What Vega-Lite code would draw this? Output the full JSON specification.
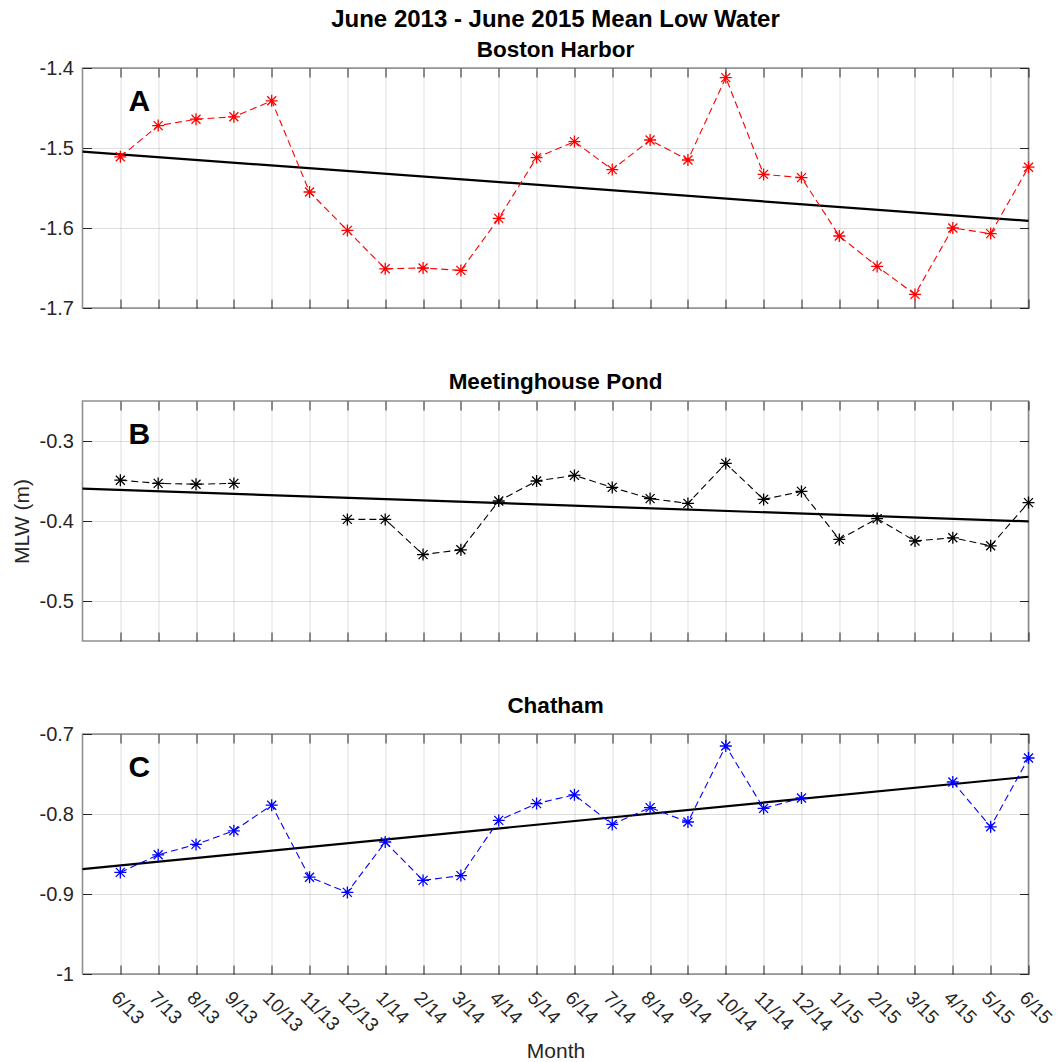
{
  "$schema": "https://vega.github.io/schema/vega-lite/v6.json",
  "padding": {"left": 10.5, "top": 7, "right": 5, "bottom": 0},
  "bounds": "flush",
  "spacing": 93,
  "datasets": {
    "mlw": [
      {"site": "A", "m": 0, "v": -1.511}, {"site": "A", "m": 1, "v": -1.472}, {"site": "A", "m": 2, "v": -1.464}, {"site": "A", "m": 3, "v": -1.461}, {"site": "A", "m": 4, "v": -1.441},
      {"site": "A", "m": 5, "v": -1.555}, {"site": "A", "m": 6, "v": -1.603}, {"site": "A", "m": 7, "v": -1.651}, {"site": "A", "m": 8, "v": -1.650}, {"site": "A", "m": 9, "v": -1.653},
      {"site": "A", "m": 10, "v": -1.588}, {"site": "A", "m": 11, "v": -1.512}, {"site": "A", "m": 12, "v": -1.492}, {"site": "A", "m": 13, "v": -1.527}, {"site": "A", "m": 14, "v": -1.490},
      {"site": "A", "m": 15, "v": -1.515}, {"site": "A", "m": 16, "v": -1.412}, {"site": "A", "m": 17, "v": -1.533}, {"site": "A", "m": 18, "v": -1.537}, {"site": "A", "m": 19, "v": -1.610},
      {"site": "A", "m": 20, "v": -1.648}, {"site": "A", "m": 21, "v": -1.683}, {"site": "A", "m": 22, "v": -1.600}, {"site": "A", "m": 23, "v": -1.607}, {"site": "A", "m": 24, "v": -1.524},
      {"site": "B", "m": 0, "v": -0.349}, {"site": "B", "m": 1, "v": -0.353}, {"site": "B", "m": 2, "v": -0.354}, {"site": "B", "m": 3, "v": -0.353}, {"site": "B", "m": 4, "v": null},
      {"site": "B", "m": 5, "v": null}, {"site": "B", "m": 6, "v": -0.398}, {"site": "B", "m": 7, "v": -0.398}, {"site": "B", "m": 8, "v": -0.442}, {"site": "B", "m": 9, "v": -0.436},
      {"site": "B", "m": 10, "v": -0.375}, {"site": "B", "m": 11, "v": -0.350}, {"site": "B", "m": 12, "v": -0.343}, {"site": "B", "m": 13, "v": -0.358}, {"site": "B", "m": 14, "v": -0.372},
      {"site": "B", "m": 15, "v": -0.378}, {"site": "B", "m": 16, "v": -0.328}, {"site": "B", "m": 17, "v": -0.373}, {"site": "B", "m": 18, "v": -0.363}, {"site": "B", "m": 19, "v": -0.423},
      {"site": "B", "m": 20, "v": -0.397}, {"site": "B", "m": 21, "v": -0.425}, {"site": "B", "m": 22, "v": -0.421}, {"site": "B", "m": 23, "v": -0.431}, {"site": "B", "m": 24, "v": -0.377},
      {"site": "C", "m": 0, "v": -0.873}, {"site": "C", "m": 1, "v": -0.851}, {"site": "C", "m": 2, "v": -0.838}, {"site": "C", "m": 3, "v": -0.821}, {"site": "C", "m": 4, "v": -0.789},
      {"site": "C", "m": 5, "v": -0.879}, {"site": "C", "m": 6, "v": -0.898}, {"site": "C", "m": 7, "v": -0.835}, {"site": "C", "m": 8, "v": -0.883}, {"site": "C", "m": 9, "v": -0.877},
      {"site": "C", "m": 10, "v": -0.808}, {"site": "C", "m": 11, "v": -0.787}, {"site": "C", "m": 12, "v": -0.776}, {"site": "C", "m": 13, "v": -0.813}, {"site": "C", "m": 14, "v": -0.792},
      {"site": "C", "m": 15, "v": -0.810}, {"site": "C", "m": 16, "v": -0.715}, {"site": "C", "m": 17, "v": -0.793}, {"site": "C", "m": 18, "v": -0.780}, {"site": "C", "m": 19, "v": null},
      {"site": "C", "m": 20, "v": null}, {"site": "C", "m": 21, "v": null}, {"site": "C", "m": 22, "v": -0.760}, {"site": "C", "m": 23, "v": -0.816}, {"site": "C", "m": 24, "v": -0.730}
    ],
    "trend": [
      {"site": "A", "m": -1, "v": -1.5045}, {"site": "A", "m": 24, "v": -1.591},
      {"site": "B", "m": -1, "v": -0.3596}, {"site": "B", "m": 24, "v": -0.4005},
      {"site": "C", "m": -1, "v": -0.8688}, {"site": "C", "m": 24, "v": -0.7534}
    ]
  },
  "vconcat": [
    {
      "width": 946, "height": 240,
      "title": {"text": "June 2013 - June 2015 Mean Low Water", "subtitle": "Boston Harbor", "fontSize": 24, "subtitleFontSize": 22.5, "subtitleFontWeight": "bold", "subtitleColor": "#000000", "subtitlePadding": 6.5, "offset": -3},
      "layer": [
        {
          "data": {"name": "trend"}, "transform": [{"filter": "datum.site === 'A'"}],
          "mark": {"type": "line", "color": "#000000", "strokeWidth": 2.2},
          "encoding": {
            "x": {"field": "m", "type": "quantitative", "scale": {"domain": [-1, 24], "nice": false, "zero": false}, "axis": {"orient": "top", "values": [0,1,2,3,4,5,6,7,8,9,10,11,12,13,14,15,16,17,18,19,20,21,22,23,24], "labels": false, "grid": false, "title": null}},
            "y": {"field": "v", "type": "quantitative", "scale": {"domain": [-1.7, -1.4], "nice": false, "zero": false}, "axis": {"orient": "right", "values": [-1.7, -1.6, -1.5, -1.4], "labels": false, "grid": false, "title": null}}
          }
        },
        {
          "data": {"name": "mlw"}, "transform": [{"filter": "datum.site === 'A'"}],
          "mark": {"type": "line", "color": "#ff0000", "strokeWidth": 1.1, "strokeDash": [7, 4]},
          "encoding": {
            "x": {"field": "m", "type": "quantitative", "scale": {"domain": [-1, 24], "nice": false, "zero": false}, "axis": {"orient": "bottom", "values": [0,1,2,3,4,5,6,7,8,9,10,11,12,13,14,15,16,17,18,19,20,21,22,23,24], "labels": false, "grid": true, "title": null}},
            "y": {"field": "v", "type": "quantitative", "scale": {"domain": [-1.7, -1.4], "nice": false, "zero": false}, "axis": {"orient": "left", "values": [-1.7, -1.6, -1.5, -1.4], "grid": true, "title": null, "labelExpr": "'' + datum.value"}}
          }
        },
        {
          "data": {"name": "mlw"}, "transform": [{"filter": "datum.site === 'A'"}],
          "mark": {"type": "point", "shape": "M0,-1L0,1M-1,0L1,0M-0.75,-0.75L0.75,0.75M-0.75,0.75L0.75,-0.75", "filled": false, "color": "#ff0000", "size": 144, "strokeWidth": 1.3, "opacity": 1},
          "encoding": {
            "x": {"field": "m", "type": "quantitative", "axis": null},
            "y": {"field": "v", "type": "quantitative", "axis": null}
          }
        },
        {
          "data": {"values": [{}]},
          "mark": {"type": "text", "fontSize": 30, "fontWeight": "bold", "align": "center", "baseline": "alphabetic", "color": "#000000"},
          "encoding": {
            "text": {"value": "A"},
            "x": {"datum": 0.5, "type": "quantitative", "axis": null},
            "y": {"datum": -1.454, "type": "quantitative", "axis": null}
          }
        }
      ],
      "resolve": {"axis": {"x": "independent", "y": "independent"}}
    },
    {
      "width": 946, "height": 240,
      "title": {"text": "Meetinghouse Pond", "fontSize": 22.5, "offset": 7},
      "layer": [
        {
          "data": {"name": "trend"}, "transform": [{"filter": "datum.site === 'B'"}],
          "mark": {"type": "line", "color": "#000000", "strokeWidth": 2.2},
          "encoding": {
            "x": {"field": "m", "type": "quantitative", "scale": {"domain": [-1, 24], "nice": false, "zero": false}, "axis": {"orient": "top", "values": [0,1,2,3,4,5,6,7,8,9,10,11,12,13,14,15,16,17,18,19,20,21,22,23,24], "labels": false, "grid": false, "title": null}},
            "y": {"field": "v", "type": "quantitative", "scale": {"domain": [-0.55, -0.25], "nice": false, "zero": false}, "axis": {"orient": "right", "values": [-0.5, -0.4, -0.3], "labels": false, "grid": false, "title": null}}
          }
        },
        {
          "data": {"name": "mlw"}, "transform": [{"filter": "datum.site === 'B'"}],
          "mark": {"type": "line", "color": "#000000", "strokeWidth": 1.1, "strokeDash": [7, 4]},
          "encoding": {
            "x": {"field": "m", "type": "quantitative", "scale": {"domain": [-1, 24], "nice": false, "zero": false}, "axis": {"orient": "bottom", "values": [0,1,2,3,4,5,6,7,8,9,10,11,12,13,14,15,16,17,18,19,20,21,22,23,24], "labels": false, "grid": true, "title": null}},
            "y": {"field": "v", "type": "quantitative", "scale": {"domain": [-0.55, -0.25], "nice": false, "zero": false}, "axis": {"orient": "left", "values": [-0.5, -0.4, -0.3], "grid": true, "title": "MLW (m)", "titleFontSize": 21, "titlePadding": 6.5, "labelExpr": "'' + datum.value"}}
          }
        },
        {
          "data": {"name": "mlw"}, "transform": [{"filter": "datum.site === 'B'"}],
          "mark": {"type": "point", "shape": "M0,-1L0,1M-1,0L1,0M-0.75,-0.75L0.75,0.75M-0.75,0.75L0.75,-0.75", "filled": false, "color": "#000000", "size": 144, "strokeWidth": 1.3, "opacity": 1},
          "encoding": {
            "x": {"field": "m", "type": "quantitative", "axis": null},
            "y": {"field": "v", "type": "quantitative", "axis": null}
          }
        },
        {
          "data": {"values": [{}]},
          "mark": {"type": "text", "fontSize": 30, "fontWeight": "bold", "align": "center", "baseline": "alphabetic", "color": "#000000"},
          "encoding": {
            "text": {"value": "B"},
            "x": {"datum": 0.5, "type": "quantitative", "axis": null},
            "y": {"datum": -0.304, "type": "quantitative", "axis": null}
          }
        }
      ],
      "resolve": {"axis": {"x": "independent", "y": "independent"}}
    },
    {
      "width": 946, "height": 240,
      "title": {"text": "Chatham", "fontSize": 22.5, "offset": 7},
      "layer": [
        {
          "data": {"name": "trend"}, "transform": [{"filter": "datum.site === 'C'"}],
          "mark": {"type": "line", "color": "#000000", "strokeWidth": 2.2},
          "encoding": {
            "x": {"field": "m", "type": "quantitative", "scale": {"domain": [-1, 24], "nice": false, "zero": false}, "axis": {"orient": "top", "values": [0,1,2,3,4,5,6,7,8,9,10,11,12,13,14,15,16,17,18,19,20,21,22,23,24], "labels": false, "grid": false, "title": null}},
            "y": {"field": "v", "type": "quantitative", "scale": {"domain": [-1.0, -0.7], "nice": false, "zero": false}, "axis": {"orient": "right", "values": [-1.0, -0.9, -0.8, -0.7], "labels": false, "grid": false, "title": null}}
          }
        },
        {
          "data": {"name": "mlw"}, "transform": [{"filter": "datum.site === 'C'"}],
          "mark": {"type": "line", "color": "#0000ff", "strokeWidth": 1.1, "strokeDash": [7, 4]},
          "encoding": {
            "x": {"field": "m", "type": "quantitative", "scale": {"domain": [-1, 24], "nice": false, "zero": false}, "axis": {"orient": "bottom", "values": [0,1,2,3,4,5,6,7,8,9,10,11,12,13,14,15,16,17,18,19,20,21,22,23,24], "labels": true, "grid": true, "title": "Month", "titleFontSize": 21, "labelFontSize": 19, "labelAngle": 45, "labelAlign": "left", "labelBaseline": "top", "labelPadding": 23, "titlePadding": 5, "labelExpr": "['6/13','7/13','8/13','9/13','10/13','11/13','12/13','1/14','2/14','3/14','4/14','5/14','6/14','7/14','8/14','9/14','10/14','11/14','12/14','1/15','2/15','3/15','4/15','5/15','6/15'][datum.value]"}},
            "y": {"field": "v", "type": "quantitative", "scale": {"domain": [-1.0, -0.7], "nice": false, "zero": false}, "axis": {"orient": "left", "values": [-1.0, -0.9, -0.8, -0.7], "grid": true, "title": null, "labelExpr": "'' + datum.value"}}
          }
        },
        {
          "data": {"name": "mlw"}, "transform": [{"filter": "datum.site === 'C'"}],
          "mark": {"type": "point", "shape": "M0,-1L0,1M-1,0L1,0M-0.75,-0.75L0.75,0.75M-0.75,0.75L0.75,-0.75", "filled": false, "color": "#0000ff", "size": 144, "strokeWidth": 1.3, "opacity": 1},
          "encoding": {
            "x": {"field": "m", "type": "quantitative", "axis": null},
            "y": {"field": "v", "type": "quantitative", "axis": null}
          }
        },
        {
          "data": {"values": [{}]},
          "mark": {"type": "text", "fontSize": 30, "fontWeight": "bold", "align": "center", "baseline": "alphabetic", "color": "#000000"},
          "encoding": {
            "text": {"value": "C"},
            "x": {"datum": 0.5, "type": "quantitative", "axis": null},
            "y": {"datum": -0.754, "type": "quantitative", "axis": null}
          }
        }
      ],
      "resolve": {"axis": {"x": "independent", "y": "independent"}}
    }
  ],
  "config": {
    "font": "Liberation Sans",
    "view": {"stroke": "#8f8f8f", "strokeWidth": 1.6},
    "axis": {
      "domain": false,
      "tickColor": "#262626", "tickSize": -9, "tickWidth": 1,
      "gridColor": "#262626", "gridOpacity": 0.15, "gridWidth": 1,
      "labelColor": "#262626", "labelFont": "Liberation Sans", "labelFontSize": 20, "labelFlush": false, "labelOverlap": false, "labelPadding": 18,
      "titleColor": "#262626", "titleFont": "Liberation Sans", "titleFontSize": 20, "titleFontWeight": "normal", "titlePadding": 3
    },
    "title": {"font": "Liberation Sans", "fontWeight": "bold", "color": "#000000", "anchor": "middle", "frame": "group"}
  }
}
